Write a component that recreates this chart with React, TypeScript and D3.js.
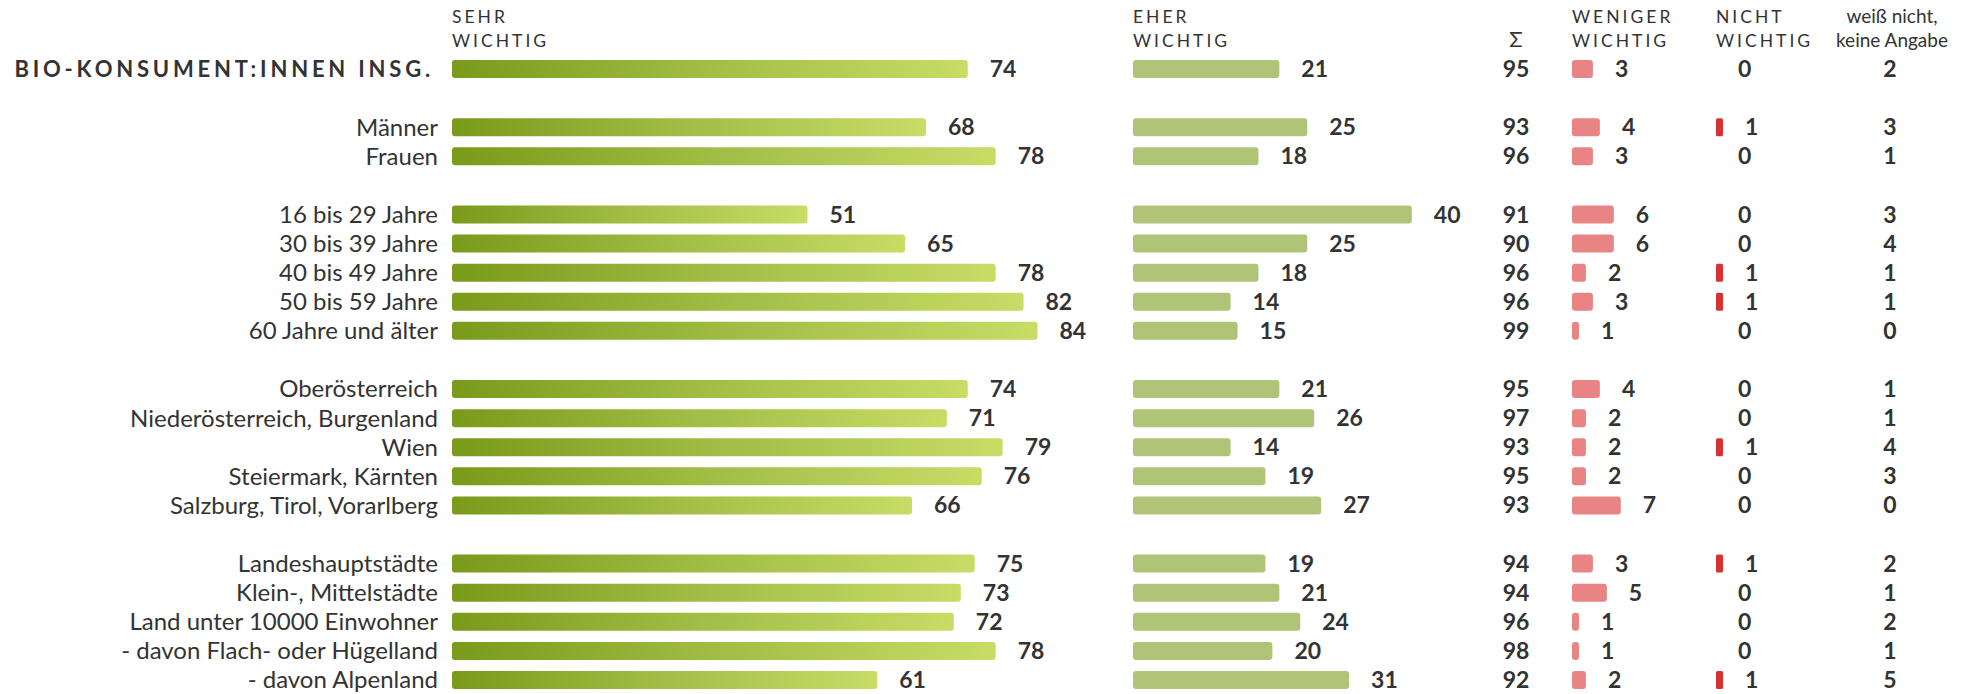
import React, { useEffect, useRef } from 'react';
import * as d3 from 'd3';

// row labels, top to bottom
const categories = [
  'BIO-KONSUMENT:INNEN INSG.',
  'Männer',
  'Frauen',
  '16 bis 29 Jahre',
  '30 bis 39 Jahre',
  '40 bis 49 Jahre',
  '50 bis 59 Jahre',
  '60 Jahre und älter',
  'Oberösterreich',
  'Niederösterreich, Burgenland',
  'Wien',
  'Steiermark, Kärnten',
  'Salzburg, Tirol, Vorarlberg',
  'Landeshauptstädte',
  'Klein-, Mittelstädte',
  'Land unter 10000 Einwohner',
  '- davon Flach- oder Hügelland',
  '- davon Alpenland',
];
// rows per block (an empty row sits between blocks)
const groupSizes = [1, 2, 5, 5, 5];

const sehrWichtig = [74, 68, 78, 51, 65, 78, 82, 84, 74, 71, 79, 76, 66, 75, 73, 72, 78, 61];
const eherWichtig = [21, 25, 18, 40, 25, 18, 14, 15, 21, 26, 14, 19, 27, 19, 21, 24, 20, 31];
const summe = [95, 93, 96, 91, 90, 96, 96, 99, 95, 97, 93, 95, 93, 94, 94, 96, 98, 92];
const wenigerWichtig = [3, 4, 3, 6, 6, 2, 3, 1, 4, 2, 2, 2, 7, 3, 5, 1, 1, 2];
const nichtWichtig = [0, 1, 0, 0, 0, 1, 1, 0, 0, 0, 1, 0, 0, 1, 0, 0, 0, 1];
const weissNicht = [2, 3, 1, 3, 4, 1, 1, 0, 1, 1, 4, 3, 0, 2, 1, 2, 1, 5];

const headers = [
  { lines: ['SEHR', 'WICHTIG'], x: 452, anchor: 'start', caps: true },
  { lines: ['EHER', 'WICHTIG'], x: 1133, anchor: 'start', caps: true },
  { lines: ['', 'Σ'], x: 1516, anchor: 'middle', caps: false },
  { lines: ['WENIGER', 'WICHTIG'], x: 1572, anchor: 'start', caps: true },
  { lines: ['NICHT', 'WICHTIG'], x: 1716, anchor: 'start', caps: true },
  { lines: ['weiß nicht,', 'keine Angabe'], x: 1892, anchor: 'middle', caps: false },
];

const FONT = 'Lato, "Open Sans", sans-serif';
const TEXT = '#333333';

const App: React.FC = () => {
  const svgRef = useRef<SVGSVGElement>(null);

  useEffect(() => {
    document.body.style.margin = '0';
    if (!svgRef.current) return;

    const width = 1967;
    const height = 694;
    const svg = d3.select(svgRef.current).attr('width', width).attr('height', height);
    svg.selectAll('*').remove();

    // slot index per row, leaving one empty slot between blocks
    const slots: number[] = [];
    let s = 0;
    groupSizes.forEach((n, gi) => {
      for (let k = 0; k < n; k++) slots.push(s++);
      if (gi < groupSizes.length - 1) s++;
    });
    const y = d3.scaleLinear().domain([0, s - 1]).range([69, 680]);
    const w = d3.scaleLinear().domain([0, 100]).range([0, 697]);

    const barH = 18;
    const gap = 22;

    const defs = svg.append('defs');
    const grad = defs
      .append('linearGradient')
      .attr('id', 'sehrGrad')
      .attr('x1', 0)
      .attr('x2', 1)
      .attr('y1', 0)
      .attr('y2', 0);
    grad.append('stop').attr('offset', '0%').attr('stop-color', '#7a9a1a');
    grad.append('stop').attr('offset', '50%').attr('stop-color', '#a2be46');
    grad.append('stop').attr('offset', '100%').attr('stop-color', '#c8dc66');

    // headers
    headers.forEach((h) => {
      const t = svg
        .append('text')
        .attr('font-family', FONT)
        .attr('font-size', h.caps ? 17.5 : 19)
        .attr('letter-spacing', h.caps ? 3 : 0)
        .attr('fill', TEXT)
        .attr('text-anchor', h.anchor);
      h.lines.forEach((line, i) => {
        t.append('tspan')
          .attr('x', h.x)
          .attr('y', 23 + i * 24)
          .attr('font-size', line === 'Σ' ? 22 : null)
          .text(line);
      });
    });

    // row labels
    svg
      .append('g')
      .selectAll('text')
      .data(categories)
      .enter()
      .append('text')
      .attr('x', (d, i) => (i === 0 ? 434 : 438))
      .attr('y', (d, i) => y(slots[i]))
      .attr('dy', '0.35em')
      .attr('text-anchor', 'end')
      .attr('font-family', FONT)
      .attr('font-size', (d, i) => (i === 0 ? 22 : 24))
      .attr('font-weight', (d, i) => (i === 0 ? 700 : 400))
      .attr('letter-spacing', (d, i) => (i === 0 ? 3.8 : 0))
      .attr('fill', TEXT)
      .text((d) => d);

    const barColumn = (values: number[], x0: number, fill: string, rx: number) => {
      const g = svg.append('g');
      values.forEach((v, i) => {
        if (v > 0) {
          g.append('rect')
            .attr('x', x0)
            .attr('y', y(slots[i]) - barH / 2)
            .attr('width', w(v))
            .attr('height', barH)
            .attr('rx', rx)
            .attr('fill', fill);
        }
        g.append('text')
          .attr('x', x0 + w(v) + gap)
          .attr('y', y(slots[i]))
          .attr('dy', '0.35em')
          .attr('font-family', FONT)
          .attr('font-size', 23)
          .attr('font-weight', 700)
          .attr('fill', TEXT)
          .text(v);
      });
    };

    barColumn(sehrWichtig, 452, 'url(#sehrGrad)', 3);
    barColumn(eherWichtig, 1133, '#b0c477', 3);
    barColumn(wenigerWichtig, 1572, '#e88484', 3);
    barColumn(nichtWichtig, 1716, '#d93030', 1.5);

    const textColumn = (values: number[], x: number) => {
      svg
        .append('g')
        .selectAll('text')
        .data(values)
        .enter()
        .append('text')
        .attr('x', x)
        .attr('y', (d, i) => y(slots[i]))
        .attr('dy', '0.35em')
        .attr('text-anchor', 'middle')
        .attr('font-family', FONT)
        .attr('font-size', 23)
        .attr('font-weight', 700)
        .attr('fill', TEXT)
        .text((d) => d);
    };
    textColumn(summe, 1516);
    textColumn(weissNicht, 1890);
  }, []);

  return <svg ref={svgRef} style={{ display: 'block', background: '#ffffff' }} />;
};

export default App;
